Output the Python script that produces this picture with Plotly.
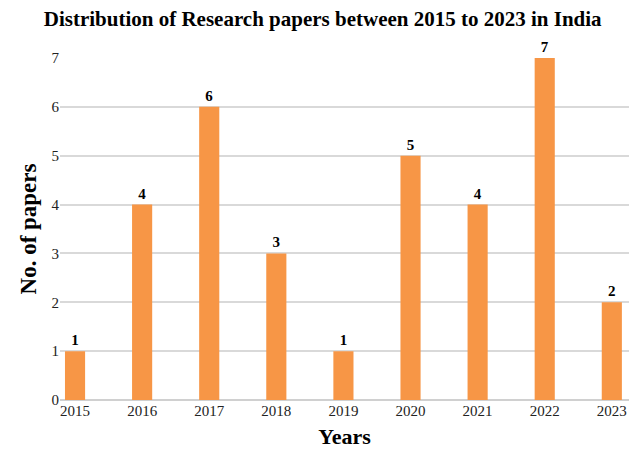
import plotly.graph_objects as go

years = ["2015", "2016", "2017", "2018", "2019", "2020", "2021", "2022", "2023"]
papers = [1, 4, 6, 3, 1, 5, 4, 7, 2]
y_ticks = [0, 1, 2, 3, 4, 5, 6, 7]

serif = "Liberation Serif, Times New Roman, serif"

fig = go.Figure(go.Bar(
    x=list(range(len(years))),
    y=papers,
    width=0.3,
    marker=dict(color="#F79646", line=dict(width=0)),
    text=[str(v) for v in papers],
    textposition="outside",
    textfont=dict(family=serif, size=15, color="black", weight="bold"),
    cliponaxis=False,
))

fig.update_layout(
    width=629, height=449,
    margin=dict(l=60, r=0, t=58, b=49),
    paper_bgcolor="white", plot_bgcolor="white",
    title=dict(text="<b>Distribution of Research papers between 2015 to 2023 in India</b>",
               x=0.513, xanchor="center", y=0.958, yanchor="middle",
               font=dict(family=serif, size=21, color="black")),
    showlegend=False,
    bargap=0.7,
)
fig.update_xaxes(
    tickmode="array", tickvals=list(range(len(years))), ticktext=years,
    range=[-0.224, 8.256],
    showgrid=False, zeroline=False, showline=False,
    ticks="", ticklen=0,
    tickfont=dict(family=serif, size=15, color="#222"),
    title=dict(text="<b>Years</b>", font=dict(family=serif, size=22, color="black"), standoff=10),
)
fig.update_yaxes(
    range=[0, 7], tickvals=y_ticks,
    showgrid=True, gridcolor="#d9d9d9", gridwidth=2,
    zeroline=True, zerolinecolor="#d0d0d0", zerolinewidth=2,
    showline=False, ticks="",
    tickfont=dict(family=serif, size=15, color="#222"),
    title=dict(text="<b>No. of papers</b>", font=dict(family=serif, size=23, color="black"), standoff=8),
)

fig.write_html("out.html")
